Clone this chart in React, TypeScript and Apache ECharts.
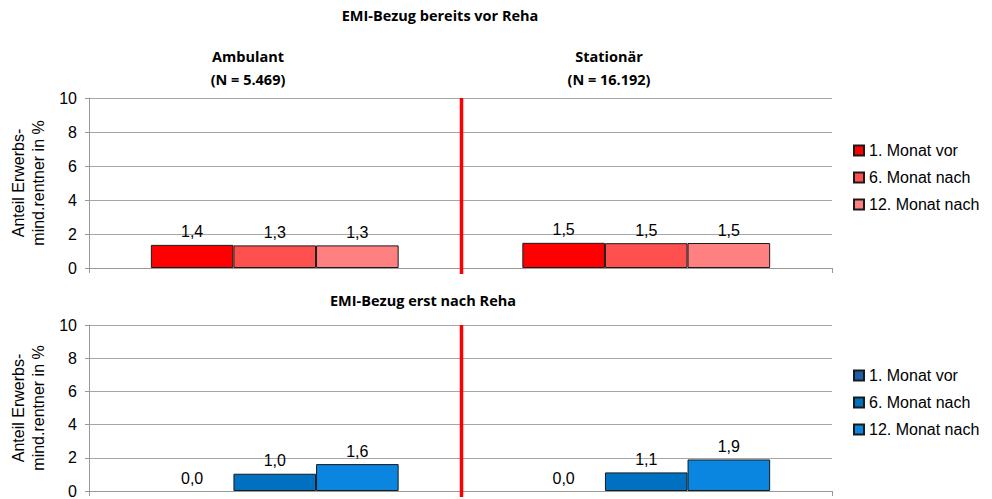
import React, { useEffect, useRef } from "react";
import * as echarts from "echarts";

const categories = ["Ambulant", "Stationär"];
const seriesNames = ["1. Monat vor", "6. Monat nach", "12. Monat nach"];
// EMI-Bezug bereits vor Reha
const vorMonat1 = [1.36, 1.48];
const vorMonat6 = [1.33, 1.46];
const vorMonat12 = [1.33, 1.47];
// EMI-Bezug erst nach Reha
const nachMonat1 = [0.0, 0.0];
const nachMonat6 = [1.04, 1.12];
const nachMonat12 = [1.62, 1.9];
const yTicks = [0, 2, 4, 6, 8, 10];

const redColors = ["#FF0000", "#FF5050", "#FF8080"];
const blueColors = ["#1F5FA8", "#0070C0", "#0A85E0"];

const SUFFIX = "\u200B";
const FONT = "'Liberation Sans', Arial, sans-serif";
const TITLE_FONT = "'Open Sans', 'Noto Sans', sans-serif";

export default function App() {
  const ref = useRef<HTMLDivElement>(null);
  useEffect(() => {
    if (!ref.current) return;
    const chart = echarts.init(ref.current, null, { renderer: "svg" });
    const grids = [
      { left: 86, top: 98, width: 746, height: 170 },
      { left: 86, top: 325, width: 746, height: 170 },
    ];
    const mkX = (gi: number) => ({
      type: "category",
      gridIndex: gi,
      data: categories,
      axisLabel: { show: false },
      axisLine: { lineStyle: { color: "#999999", width: 1 } },
      axisTick: { show: true, length: 5, lineStyle: { color: "#999999" } },
    });
    const mkY = (gi: number) => ({
      type: "value",
      gridIndex: gi,
      min: yTicks[0],
      max: yTicks[yTicks.length - 1],
      interval: 2,
      name: "Anteil Erwerbs-\nmind.rentner in %",
      nameLocation: "middle",
      nameRotate: 90,
      nameGap: 41,
      nameTextStyle: { fontFamily: FONT, fontSize: 16, color: "#000", lineHeight: 20 },
      axisLine: { show: true, lineStyle: { color: "#999999", width: 1 } },
      axisTick: { show: true, length: 4, lineStyle: { color: "#999999" } },
      axisLabel: { fontFamily: FONT, fontSize: 16, color: "#000", margin: 12 },
      splitLine: { show: true, lineStyle: { color: "#A6A6A6", width: 1 } },
    });
    const label = {
      show: true,
      position: "top",
      distance: 5,
      fontFamily: FONT,
      fontSize: 16,
      color: "#000",
      formatter: (p: any) => Number(p.value).toFixed(1).replace(".", ","),
    };
    const mkSeries = (name: string, data: number[], color: string, gi: number) => ({
      type: "bar",
      name,
      xAxisIndex: gi,
      yAxisIndex: gi,
      data: data.map((v) => (v === 0 ? { value: v, itemStyle: { borderWidth: 0 } } : v)),
      barGap: "0%",
      barCategoryGap: "33.3%",
      itemStyle: { color, borderColor: "#1a1a1a", borderWidth: 1 },
      label,
    });
    const topData = [vorMonat1, vorMonat6, vorMonat12];
    const botData = [nachMonat1, nachMonat6, nachMonat12];
    const series: any[] = [];
    seriesNames.forEach((n, i) => series.push(mkSeries(n, topData[i], redColors[i], 0)));
    seriesNames.forEach((n, i) => series.push(mkSeries(n + SUFFIX, botData[i], blueColors[i], 1)));

    const mkTitle = (text: string, left: number, top: number, lineHeight = 18) => ({
      text,
      left,
      top,
      padding: 0,
      textAlign: "center",
      textVerticalAlign: "middle",
      textStyle: { fontFamily: TITLE_FONT, fontSize: 14.5, fontWeight: "bold", color: "#000", lineHeight },
    });
    const legendCommon = {
      orient: "vertical",
      left: 848,
      itemWidth: 10,
      itemHeight: 10,
      itemGap: 10,
      icon: "rect",
      textStyle: { fontFamily: FONT, fontSize: 16, color: "#000", lineHeight: 17 },
      formatter: (n: string) => n.replace(SUFFIX, ""),
    };

    chart.setOption({
      animation: false,
      backgroundColor: "#fff",
      title: [
        mkTitle("EMI-Bezug bereits vor Reha", 440, 15),
        mkTitle("Ambulant\n(N = 5.469)", 248, 68, 23),
        mkTitle("Stationär\n(N = 16.192)", 609, 68, 23),
        mkTitle("EMI-Bezug erst nach Reha", 423, 300),
      ],
      legend: [
        { ...legendCommon, top: 137, data: seriesNames },
        { ...legendCommon, top: 362, data: seriesNames.map((n) => n + SUFFIX) },
      ],
      grid: grids,
      xAxis: [mkX(0), mkX(1)],
      yAxis: [mkY(0), mkY(1)],
      series,
    });

    const graphics: any[] = [];
    [0, 1].forEach((gi) => {
      const xa = chart.convertToPixel({ xAxisIndex: gi }, categories[0]) as number;
      const xb = chart.convertToPixel({ xAxisIndex: gi }, categories[1]) as number;
      const yTop = chart.convertToPixel({ yAxisIndex: gi }, yTicks[yTicks.length - 1]) as number;
      const yBot = chart.convertToPixel({ yAxisIndex: gi }, yTicks[0]) as number;
      const xm = (xa + xb) / 2 + 1;
      graphics.push({
        type: "line",
        shape: { x1: xm, y1: yTop, x2: xm, y2: yBot + 6 },
        style: { stroke: "#FF0000", lineWidth: 3.5 },
        z: 100,
      });
    });
    chart.setOption({ graphic: graphics });

    return () => chart.dispose();
  }, []);
  return (
    <div
      ref={ref}
      style={{ position: "absolute", left: 0, top: 0, width: 992, height: 499 }}
    />
  );
}
